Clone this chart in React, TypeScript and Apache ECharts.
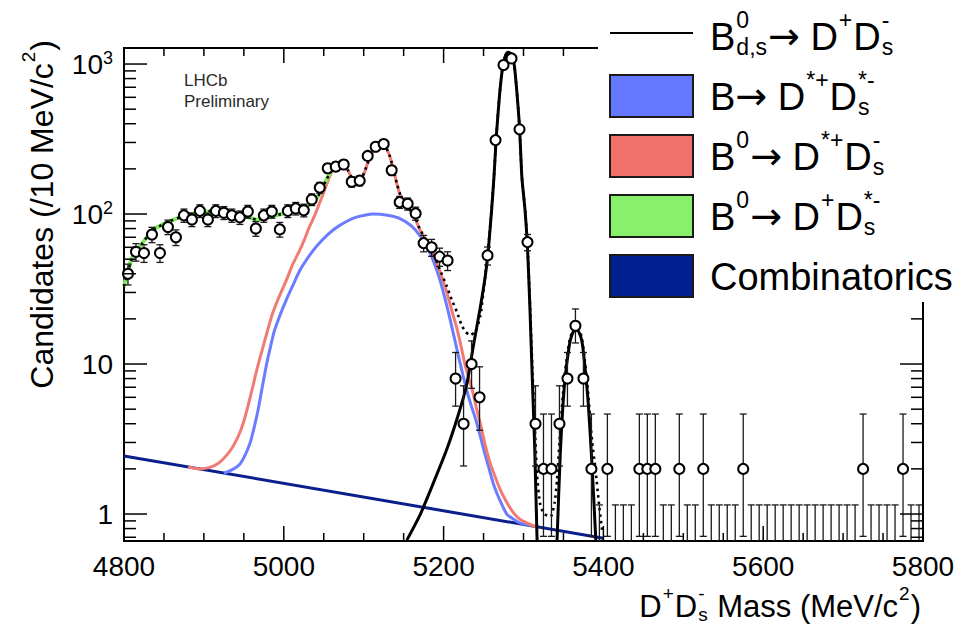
import React, { useEffect, useRef } from 'react';
import * as echarts from 'echarts';

const FONT = '"Liberation Sans", Arial, Helvetica, sans-serif';
const ARROW_FONT = '"DejaVu Sans", "Liberation Sans", sans-serif';

// Histogram: 10 MeV bins from 4800 to 5800
const BIN_START = 4800;
const BIN_WIDTH = 10;
const COUNTS = [
  40, 56, 55, 73, 55, 82, 70, 98, 92, 105,
  92, 105, 102, 98, 95, 104, 80, 98, 104, 79,
  105, 109, 106, 125, 150, 202, 207, 214, 164, 167,
  244, 281, 293, 196, 120, 117, 101, 64, 60, 52,
  49, 8, 4, 10, 6, 53, 311, 985, 1090, 367,
  65, 4, 2, 2, 4, 8, 18, 8, 2, 0,
  2, 0, 0, 0, 2, 2, 2, 0, 0, 2,
  0, 0, 2, 0, 0, 0, 0, 2, 0, 0,
  0, 0, 0, 0, 0, 0, 0, 0, 0, 0,
  0, 0, 2, 0, 0, 0, 0, 2, 0, 0,
];

// Poisson (Garwood) error table for small counts, as drawn
const POISSON_LOW: Record<number, number> = { 0: 0, 2: 1.29, 4: 1.91, 6: 2.38, 8: 2.76, 10: 3.11, 18: 4.18 };
const POISSON_HIGH: Record<number, number> = { 0: 1.15, 2: 2.64, 4: 3.16, 6: 3.58, 8: 3.94, 10: 4.26, 18: 5.29 };

const X_TICK_LABELS = ['4800', '5000', '5200', '5400', '5600', '5800'];
const Y_TICK_LABELS = ['1', '10', '10{sup|2}', '10{sup|3}'];

// Fit curves [mass, candidates]
const COMBINATORICS = [[4800, 2.44], [5400, 0.69]];
const BLUE_DSTAR_DSTAR = [
  [4925, 1.87], [4935, 1.97], [4945, 2.15], [4952, 2.5], [4958, 3.0], [4963, 3.8], [4968, 5.0],
  [4973, 7.0], [4978, 9.7], [4983, 12.8], [4988, 16.5], [4995, 21], [5003, 26.7], [5012, 34],
  [5020, 42], [5030, 51], [5041, 61], [5055, 73], [5070, 84], [5090, 95], [5112, 100],
  [5130, 98], [5146, 93], [5160, 83], [5171, 71], [5180, 59], [5187, 49], [5195, 37],
  [5202, 27], [5208, 20], [5214, 14.5], [5220, 10.5], [5228, 7], [5234, 5.4], [5240, 4.3],
  [5246, 3.3], [5251, 2.6], [5257, 2.0], [5263, 1.55], [5270, 1.25], [5279, 1.0], [5288, 0.92],
  [5296, 0.87], [5310, 0.835],
];
const RED_DSTAR_DS = [
  [4880, 2.06], [4895, 2.0], [4905, 2.03], [4913, 2.1], [4920, 2.22], [4928, 2.45], [4936, 2.8],
  [4943, 3.3], [4949, 4.0], [4955, 5.2], [4961, 7.0], [4967, 9.5], [4974, 13], [4980, 17],
  [4986, 21.8], [4994, 28], [5003, 36], [5011, 46], [5020, 57.5], [5026, 68], [5032, 82],
  [5038, 96], [5043, 112], [5047, 127], [5051, 144], [5055, 165], [5060, 192], [5065, 212],
  [5071, 222], [5076, 214], [5081, 192], [5086, 170], [5091, 162], [5096, 166], [5101, 190],
  [5106, 225], [5112, 262], [5118, 288], [5122, 293], [5127, 282], [5132, 248], [5137, 200],
  [5142, 155], [5147, 128], [5153, 113], [5160, 103], [5165, 92], [5170, 79], [5178, 66],
  [5187, 54], [5195, 42], [5204, 30], [5210, 23], [5217, 17], [5222, 13], [5227, 9.8],
  [5232, 7.9], [5236, 6.7], [5241, 5.1], [5246, 4.0], [5252, 2.9], [5258, 2.2], [5264, 1.8],
  [5271, 1.45], [5279, 1.2], [5288, 1.01], [5296, 0.92], [5305, 0.87], [5318, 0.81],
];
const GREEN_D_DSSTAR = [
  [4800, 33], [4810, 51], [4823, 64], [4836, 78], [4856, 89], [4878, 98], [4903, 104],
  [4924, 105], [4945, 100], [4966, 92], [4982, 95.5], [5003, 102], [5024, 109], [5041, 127],
  [5047, 145], [5053, 168], [5060, 196], [5066, 214], [5071, 222], [5076, 214],
];
const SIGNAL_BD = [
  [5154, 0.67], [5171, 1.0], [5187, 1.6], [5204, 2.7], [5219, 4.7], [5229, 7.3], [5237, 13],
  [5246, 24], [5252, 38], [5256, 58], [5260, 105], [5263, 175], [5266, 330], [5270, 620],
  [5274, 960], [5278, 1160], [5281, 1200], [5284, 1170], [5288, 1020], [5291, 720], [5295, 380],
  [5298, 175], [5302, 105], [5305, 60], [5308, 24], [5311, 8], [5314, 2.8], [5317, 0.67],
];
const SIGNAL_BS = [
  [5342, 0.67], [5346, 2.5], [5351, 7], [5357, 13], [5362, 16.3], [5367, 17], [5372, 15],
  [5375, 12], [5381, 5.5], [5386, 2], [5390.5, 0.67],
];
const TOTAL_FIT = [
  [4800, 33], [4810, 50], [4823, 64], [4836, 78], [4856, 89], [4878, 98], [4903, 104],
  [4924, 105], [4945, 100], [4966, 92], [4982, 95.5], [5003, 102], [5024, 109], [5041, 127],
  [5047, 145], [5053, 168], [5060, 196], [5065, 214], [5071, 223], [5076, 215], [5081, 193],
  [5086, 171], [5091, 163], [5096, 167], [5101, 191], [5106, 226], [5112, 263], [5118, 289],
  [5122, 294], [5127, 283], [5132, 249], [5137, 201], [5142, 156], [5147, 129], [5153, 114],
  [5160, 104], [5165, 93], [5170, 80], [5178, 67], [5187, 55], [5195, 43], [5204, 33],
  [5210, 27], [5217, 22], [5222, 18.5], [5227, 16.5], [5233, 15.6], [5240, 16.5], [5246, 21],
  [5252, 38], [5256, 60], [5260, 107], [5263, 177], [5266, 332], [5270, 622], [5274, 962],
  [5278, 1162], [5281, 1202], [5284, 1172], [5288, 1022], [5291, 722], [5295, 382], [5298, 177],
  [5302, 107], [5305, 62], [5308, 26], [5311, 9.5], [5314, 4], [5317, 1.8], [5321, 1.15],
  [5326, 1.0], [5334, 0.96], [5339, 1.2], [5342, 1.7], [5346, 3.6], [5351, 7.9], [5357, 13.8],
  [5362, 17], [5367, 17.7], [5372, 15.7], [5375, 12.7], [5381, 6.3], [5386, 3], [5390, 2.0],
  [5395, 1.1], [5399, 0.74],
];

const COLORS = {
  comb: '#0a1f8c',
  blue: '#6b7cff',
  red: '#f07b74',
  green: '#80ea62',
  boxBlue: '#6678ff',
  boxRed: '#f0706a',
  boxGreen: '#88f06a',
  boxNavy: '#00208f',
};

type Tok = { t?: string; sup?: string; sub?: string; font?: string; dy?: number };

function makeMeasure() {
  const c = document.createElement('canvas');
  const ctx = c.getContext('2d') as CanvasRenderingContext2D;
  return (s: string, size: number, family = FONT) => {
    ctx.font = `${size}px ${family}`;
    return ctx.measureText(s).width;
  };
}

function textEl(text: string, x: number, y: number, size: number, z = 101, color = '#000', family = FONT) {
  return {
    type: 'text',
    x,
    y,
    z,
    style: {
      text,
      font: `${size}px ${family}`,
      fill: color,
      align: 'left',
      verticalAlign: 'middle',
      textAlign: 'left',
      textVerticalAlign: 'middle',
    },
  };
}

function layoutMath(
  tokens: Tok[],
  size: number,
  measure: (s: string, n: number, f?: string) => number,
  supOff = -0.45,
  subOff = 0.27
) {
  const ss = Math.round(size * 0.6);
  const children: any[] = [];
  let x = 0;
  for (const tok of tokens) {
    if (tok.t !== undefined) {
      const fam = tok.font || FONT;
      children.push(textEl(tok.t, x, (tok.dy || 0) * size, size, 101, '#000', fam));
      x += measure(tok.t, size, fam);
    } else {
      const ws = tok.sup ? measure(tok.sup, ss) : 0;
      const wb = tok.sub ? measure(tok.sub, ss) : 0;
      if (tok.sup) children.push(textEl(tok.sup, x + 1, supOff * size, ss));
      if (tok.sub) children.push(textEl(tok.sub, x + 1, subOff * size, ss));
      x += Math.max(ws, wb) + 2;
    }
  }
  return { children, width: x };
}

const ARROW: Tok = { t: '\u2192', font: ARROW_FONT, dy: -0.02 };

export default function App() {
  const ref = useRef<HTMLDivElement>(null);

  useEffect(() => {
    document.body.style.margin = '0';
    if (!ref.current) return;
    const chart = echarts.init(ref.current, null, { renderer: 'svg' });
    const measure = makeMeasure();

    const binCenters = COUNTS.map((_, i) => BIN_START + BIN_WIDTH * (i + 0.5));
    const points = COUNTS.map((n, i) => (n > 0 ? [binCenters[i], n] : null)).filter(Boolean) as number[][];
    const errLow = (n: number) => (POISSON_LOW[n] !== undefined ? POISSON_LOW[n] : Math.sqrt(n));
    const errHigh = (n: number) => (POISSON_HIGH[n] !== undefined ? POISSON_HIGH[n] : Math.sqrt(n));
    const errData = COUNTS.map((n, i) => [binCenters[i], n - errLow(n), n + errHigh(n)]);

    const xMajor = X_TICK_LABELS.map(Number);
    const xTicks: number[][] = [];
    for (let v = xMajor[0]; v <= xMajor[xMajor.length - 1]; v += 50) {
      xTicks.push([v, 1, xMajor.includes(v) ? 1 : 0]);
    }
    const yMin = 0.661;
    const yMax = 1279;
    const yTicks: number[][] = [];
    for (let d = -1; d <= 3; d++) {
      for (let k = 1; k <= 9; k++) {
        const v = k * Math.pow(10, d);
        if (v >= yMin && v <= yMax) yTicks.push([4800, v, k === 1 ? 1 : 0]);
      }
    }

    const lineSeries = (name: string, data: number[][], color: string, width: number, extra: any = {}) => ({
      name,
      type: 'line',
      data,
      showSymbol: false,
      symbol: 'none',
      smooth: extra.smooth ?? 0.2,
      lineStyle: { color, width, ...(extra.lineStyle || {}) },
      silent: true,
      clip: true,
      z: extra.z ?? 2,
    });

    // Legend and titles
    const legendFont = 38;
    const legendRows: { tokens: Tok[]; y: number }[] = [
      { tokens: [{ t: 'B' }, { sup: '0', sub: 'd,s' }, ARROW, { t: ' D' }, { sup: '+' }, { t: 'D' }, { sup: '-', sub: 's' }], y: 37 },
      { tokens: [{ t: 'B' }, ARROW, { t: ' D' }, { sup: '*+' }, { t: 'D' }, { sup: '*-', sub: 's' }], y: 97 },
      { tokens: [{ t: 'B' }, { sup: '0' }, ARROW, { t: ' D' }, { sup: '*+' }, { t: 'D' }, { sup: '-', sub: 's' }], y: 157 },
      { tokens: [{ t: 'B' }, { sup: '0' }, ARROW, { t: ' D' }, { sup: '+' }, { t: 'D' }, { sup: '*-', sub: 's' }], y: 217 },
      { tokens: [{ t: 'Combinatorics' }], y: 277 },
    ];
    const legendGraphics: any[] = [
      { type: 'rect', shape: { x: 598, y: 0, width: 377, height: 302 }, style: { fill: '#fff' }, z: 100 },
      { type: 'line', shape: { x1: 610, y1: 33, x2: 693, y2: 33 }, style: { stroke: '#000', lineWidth: 2 }, z: 101 },
    ];
    const boxColors = [COLORS.boxBlue, COLORS.boxRed, COLORS.boxGreen, COLORS.boxNavy];
    boxColors.forEach((c, i) => {
      legendGraphics.push({
        type: 'rect',
        shape: { x: 610, y: 75 + i * 60, width: 83, height: 42 },
        style: { fill: c, stroke: '#1a1a1a', lineWidth: 2 },
        z: 101,
      });
    });
    legendRows.forEach((row) => {
      const m = layoutMath(row.tokens, legendFont, measure);
      legendGraphics.push({ type: 'group', x: 710, y: row.y, z: 101, children: m.children });
    });

    const xTitle = layoutMath(
      [{ t: 'D' }, { sup: '+' }, { t: 'D' }, { sup: '-', sub: 's' }, { t: ' Mass (MeV/c' }, { sup: '2' }, { t: ')' }],
      31,
      measure,
      -0.4,
      0.27
    );
    const yTitle = layoutMath([{ t: 'Candidates (/10 MeV/c' }, { sup: '2' }, { t: ')' }], 32, measure, -0.42, 0.27);

    const graphics: any[] = [
      ...legendGraphics,
      { type: 'group', x: 921 - xTitle.width, y: 606, children: xTitle.children },
      { type: 'group', x: 42, y: 40 + yTitle.width, rotation: Math.PI / 2, children: yTitle.children },
      textEl('LHCb', 184, 80, 17, 10, '#2a2a2a'),
      textEl('Preliminary', 184, 101, 17, 10, '#2a2a2a'),
    ];

    const option: any = {
      animation: false,
      backgroundColor: '#fff',
      grid: {
        left: 124,
        top: 48,
        width: 799,
        height: 493,
        show: true,
        borderColor: '#000',
        borderWidth: 2,
        backgroundColor: 'transparent',
      },
      xAxis: {
        type: 'value',
        min: 4800,
        max: 5800,
        interval: 200,
        axisLine: { show: false },
        axisTick: { show: false },
        splitLine: { show: false },
        axisLabel: {
          fontSize: 28,
          fontFamily: FONT,
          color: '#000',
          margin: 11,
          formatter: (v: number) => (X_TICK_LABELS.includes(String(Math.round(v))) ? String(Math.round(v)) : ''),
        },
      },
      yAxis: {
        type: 'log',
        logBase: 10,
        min: yMin,
        max: yMax,
        axisLine: { show: false },
        axisTick: { show: false },
        splitLine: { show: false },
        axisLabel: {
          fontSize: 28,
          fontFamily: FONT,
          color: '#000',
          margin: 11,
          showMinLabel: false,
          showMaxLabel: false,
          formatter: (v: number) => {
            const l = Math.log10(v);
            const e = Math.round(l);
            if (Math.abs(l - e) > 0.01 || e < 0 || e >= Y_TICK_LABELS.length) return '';
            return Y_TICK_LABELS[e];
          },
          rich: {
            sup: { fontSize: 18, fontFamily: FONT, color: '#000', verticalAlign: 'bottom', padding: [0, 0, 12, 0] },
          },
        },
      },
      graphic: graphics,
      series: [
        lineSeries('Combinatorics', COMBINATORICS, COLORS.comb, 3, { smooth: false }),
        lineSeries('B -> D*+ Ds*-', BLUE_DSTAR_DSTAR, COLORS.blue, 3),
        lineSeries('B0 -> D*+ Ds-', RED_DSTAR_DS, COLORS.red, 3),
        lineSeries('B0 -> D+ Ds*-', GREEN_D_DSSTAR, COLORS.green, 4),
        lineSeries('Bd -> D+ Ds-', SIGNAL_BD, '#000', 3),
        lineSeries('Bs -> D+ Ds-', SIGNAL_BS, '#000', 3),
        lineSeries('Total fit', TOTAL_FIT, '#000', 2.6, { lineStyle: { type: [2.5, 4] } }),
        {
          name: 'errors',
          type: 'custom',
          data: errData,
          encode: { x: 0, y: 2 },
          silent: true,
          z: 5,
          renderItem: (params: any, api: any) => {
            const cs = params.coordSys;
            const x = api.value(0);
            const lo = api.value(1);
            const hi = api.value(2);
            const bottom = cs.y + cs.height;
            const top = api.coord([x, hi]);
            const px = top[0];
            const yTop = Math.max(top[1], cs.y);
            const yBot = lo > 0 ? Math.min(api.coord([x, lo])[1], bottom) : bottom;
            const st = { stroke: '#1a1a1a', lineWidth: 1.3 };
            const cap = 3.5;
            const children: any[] = [
              { type: 'line', shape: { x1: px, y1: yTop, x2: px, y2: yBot }, style: st },
              { type: 'line', shape: { x1: px - cap, y1: yTop, x2: px + cap, y2: yTop }, style: st },
            ];
            if (lo > 0 && yBot < bottom - 1) {
              children.push({ type: 'line', shape: { x1: px - cap, y1: yBot, x2: px + cap, y2: yBot }, style: st });
            }
            return { type: 'group', children };
          },
        },
        {
          name: 'data',
          type: 'scatter',
          data: points,
          symbol: 'circle',
          symbolSize: 10,
          silent: true,
          z: 6,
          itemStyle: { color: '#fff', borderColor: '#000', borderWidth: 2, opacity: 1 },
        },
        {
          name: 'xticks',
          type: 'custom',
          data: xTicks,
          silent: true,
          z: 7,
          renderItem: (params: any, api: any) => {
            const cs = params.coordSys;
            const px = api.coord([api.value(0), 1])[0];
            const len = api.value(2) ? 15 : 8;
            const st = { stroke: '#000', lineWidth: 1.5 };
            const b = cs.y + cs.height;
            return {
              type: 'group',
              children: [
                { type: 'line', shape: { x1: px, y1: b, x2: px, y2: b - len }, style: st },
                { type: 'line', shape: { x1: px, y1: cs.y, x2: px, y2: cs.y + len }, style: st },
              ],
            };
          },
        },
        {
          name: 'yticks',
          type: 'custom',
          data: yTicks,
          silent: true,
          z: 7,
          renderItem: (params: any, api: any) => {
            const cs = params.coordSys;
            const py = api.coord([4800, api.value(1)])[1];
            const len = api.value(2) ? 23 : 12;
            const st = { stroke: '#000', lineWidth: 1.5 };
            const r = cs.x + cs.width;
            return {
              type: 'group',
              children: [
                { type: 'line', shape: { x1: cs.x, y1: py, x2: cs.x + len, y2: py }, style: st },
                { type: 'line', shape: { x1: r, y1: py, x2: r - len, y2: py }, style: st },
              ],
            };
          },
        },
      ],
    };

    chart.setOption(option);
    return () => chart.dispose();
  }, []);

  return (
    <div
      ref={ref}
      style={{ position: 'absolute', left: 0, top: 0, width: 975, height: 632, background: '#fff' }}
    />
  );
}
